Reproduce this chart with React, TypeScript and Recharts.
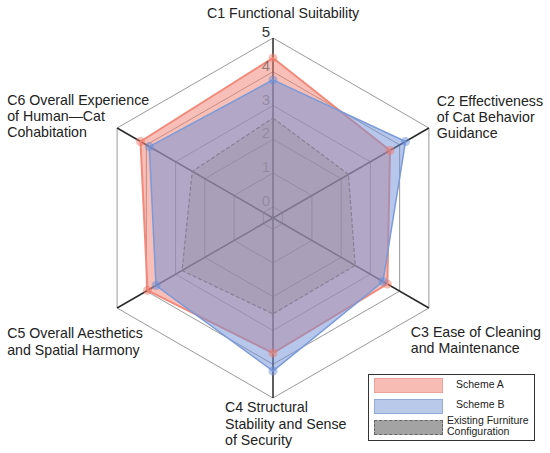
import React from "react";
import {
  RadarChart,
  Radar,
  PolarGrid,
  PolarAngleAxis,
  PolarRadiusAxis,
} from "recharts";

const categories = ["C1", "C2", "C3", "C4", "C5", "C6"];
const schemeA = [4.41, 3.67, 3.58, 3.67, 3.96, 4.2];
const schemeB = [3.76, 4.2, 3.43, 4.2, 3.67, 3.9];
const existing = [2.63, 2.25, 2.48, 2.51, 2.78, 2.43];
const radiusTicks = [0, 1, 2, 3, 4, 5];
const labelLines = [
  ["C1 Functional Suitability"],
  ["C2 Effectiveness", "of Cat Behavior", "Guidance"],
  ["C3 Ease of Cleaning", "and Maintenance"],
  ["C4 Structural", "Stability and Sense", "of Security"],
  ["C5 Overall Aesthetics", "and Spatial Harmony"],
  ["C6 Overall Experience", "of Human\u2014Cat", "Cohabitation"],
];

const data = categories.map((c, i) => ({
  subject: c,
  A: schemeA[i],
  B: schemeB[i],
  E: existing[i],
}));

const FONT = "'Liberation Sans', Arial, sans-serif";

// label placement relative to the library's tick position
const labelStyle = [
  { dx: -66, dy: -12.5, lh: 16 },
  { dx: 1, dy: -18, lh: 16 },
  { dx: -25, dy: 25, lh: 16 },
  { dx: -48, dy: 6, lh: 16.5 },
  { dx: -103, dy: 26, lh: 17 },
  { dx: -103, dy: -19, lh: 16 },
];

// visual strength of radius labels that sit under translucent fills
const radiusLabelOpacity: Record<number, number> = { 0: 0.2, 1: 0.2, 2: 0.2, 3: 0.28, 4: 0.5, 5: 1 };

const AngleTick = (props: any) => {
  const { x, y, index } = props;
  const lines = labelLines[index] || [];
  const s = labelStyle[index];
  return (
    <text
      x={x + s.dx}
      y={y + s.dy}
      textAnchor="start"
      fontFamily={FONT}
      fontSize={14.2}
      fill="#222"
    >
      {lines.map((l, i) => (
        <tspan key={i} x={x + s.dx} dy={i === 0 ? 0 : s.lh}>
          {l}
        </tspan>
      ))}
    </text>
  );
};

const RadiusTick = (props: any) => {
  const { x, y, payload } = props;
  return (
    <text
      x={x - 7}
      y={y - 1}
      textAnchor="middle"
      fontFamily={FONT}
      fontSize={15}
      fill="#333"
      fillOpacity={radiusLabelOpacity[payload.value] ?? 1}
    >
      {payload.value}
    </text>
  );
};

const Swatch = ({ bg, border, dashed }: any) => (
  <div
    style={{
      width: 69,
      height: 15,
      background: bg,
      border: `1px ${dashed ? "dashed" : "solid"} ${border}`,
      boxSizing: "border-box",
    }}
  />
);

const LegendBox = () => (
  <div
    style={{
      position: "absolute",
      left: 368,
      top: 374,
      width: 167,
      height: 67,
      border: "1.5px solid #333",
      boxSizing: "border-box",
      background: "#fff",
      fontFamily: FONT,
      fontSize: 10.5,
      color: "#222",
    }}
  >
    <div style={{ position: "absolute", left: 5, top: 3 }}>
      <Swatch bg="#F7BDB5" border="#E9A49B" />
    </div>
    <div style={{ position: "absolute", left: 87, top: 2, lineHeight: "14px" }}>Scheme A</div>
    <div style={{ position: "absolute", left: 5, top: 24 }}>
      <Swatch bg="#B9C9EA" border="#93AAD8" />
    </div>
    <div style={{ position: "absolute", left: 87, top: 22, lineHeight: "14px" }}>Scheme B</div>
    <div style={{ position: "absolute", left: 5, top: 45 }}>
      <Swatch bg="#A3A3A3" border="#666" dashed />
    </div>
    <div
      style={{
        position: "absolute",
        left: 78,
        top: 40,
        lineHeight: "11px",
        whiteSpace: "nowrap",
      }}
    >
      Existing Furniture
      <br />
      Configuration
    </div>
  </div>
);

export default function App() {
  return (
    <div
      style={{
        position: "absolute",
        left: 0,
        top: 0,
        width: 550,
        height: 453,
        background: "#fff",
      }}
    >
      <RadarChart
        width={550}
        height={453}
        data={data}
        cx={273}
        cy={218}
        outerRadius={180}
        margin={{ top: 0, right: 0, bottom: 0, left: 0 }}
      >
        <PolarGrid gridType="polygon" radialLines={false} stroke="#9a9a9a" strokeWidth={1} />
        <PolarGrid gridType="polygon" polarRadius={[]} stroke="#2a2a2a" strokeWidth={1.5} />
        <PolarAngleAxis
          dataKey="subject"
          axisLine={false}
          tickLine={false}
          tick={<AngleTick />}
        />
        <PolarRadiusAxis
          angle={90}
          domain={[-0.33, 5]}
          ticks={radiusTicks as any}
          axisLine={false}
          tickLine={false}
          tick={<RadiusTick />}
        />
        <Radar
          dataKey="A"
          stroke="#F2897A"
          strokeWidth={2}
          fill="#F08070"
          fillOpacity={0.5}
          dot={{ r: 4.5, fill: "#F07A6A", stroke: "none" }}
          isAnimationActive={false}
        />
        <Radar
          dataKey="B"
          stroke="#7A9AD8"
          strokeWidth={1.5}
          fill="#7090D8"
          fillOpacity={0.5}
          dot={{ r: 4.5, fill: "#6A8DD8", stroke: "none" }}
          isAnimationActive={false}
        />
        <Radar
          dataKey="E"
          stroke="#8a8096"
          strokeWidth={1.2}
          strokeDasharray="4 2"
          fill="#808080"
          fillOpacity={0.2}
          dot={false}
          isAnimationActive={false}
        />
      </RadarChart>
      <LegendBox />
    </div>
  );
}
